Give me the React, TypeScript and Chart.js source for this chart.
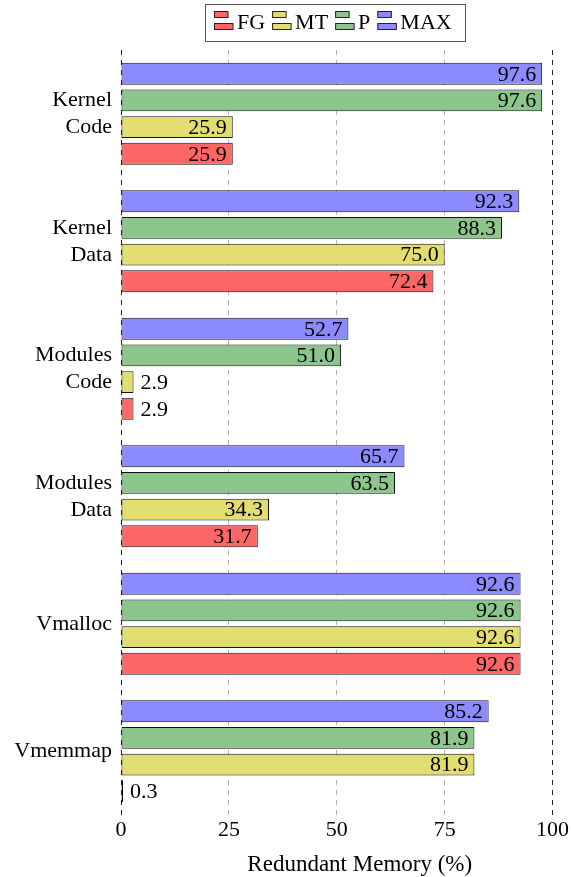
import React, { useEffect, useRef } from "react";
import { Chart, registerables } from "chart.js";

Chart.register(...registerables);

const categories: (string | string[])[] = [
  ["Kernel", "Code"],
  ["Kernel", "Data"],
  ["Modules", "Code"],
  ["Modules", "Data"],
  "Vmalloc",
  "Vmemmap",
];

const seriesNames = ["MAX", "P", "MT", "FG"];
const maxValues = [97.6, 92.3, 52.7, 65.7, 92.6, 85.2];
const pValues = [97.6, 88.3, 51.0, 63.5, 92.6, 81.9];
const mtValues = [25.9, 75.0, 2.9, 34.3, 92.6, 81.9];
const fgValues = [25.9, 72.4, 2.9, 31.7, 92.6, 0.3];
const seriesColors = ["#8b8bff", "#8cc68c", "#e2dd70", "#ff6666"];
const xTicks = [0, 25, 50, 75, 100];
const xTitle = "Redundant Memory (%)";

const FONT = "'Liberation Serif', 'Times New Roman', serif";
const FONT_SIZE = 22;

const valueLabels = {
  id: "valueLabels",
  afterDatasetsDraw(chart: any) {
    const ctx = chart.ctx;
    ctx.save();
    ctx.font = `${FONT_SIZE}px ${FONT}`;
    ctx.fillStyle = "#000";
    ctx.textBaseline = "middle";
    chart.data.datasets.forEach((ds: any, di: number) => {
      const meta = chart.getDatasetMeta(di);
      meta.data.forEach((el: any, i: number) => {
        const v = ds.data[i] as number;
        const txt = v.toFixed(1);
        if (v < 10) {
          ctx.textAlign = "left";
          ctx.fillText(txt, el.x + 7, el.y + 1);
        } else {
          ctx.textAlign = "right";
          ctx.fillText(txt, el.x - 6, el.y + 1);
        }
      });
    });
    ctx.restore();
  },
};

const boxLegend = {
  id: "boxLegend",
  afterDraw(chart: any) {
    const ctx = chart.ctx;
    ctx.save();
    ctx.font = `${FONT_SIZE}px ${FONT}`;
    const items = chart.data.datasets
      .map((ds: any) => ({ label: ds.label as string, color: ds.backgroundColor as string }))
      .reverse();
    const iconW = 19;
    const gapIconText = 4;
    const gapItems = 7;
    let total = 0;
    items.forEach((it: any, i: number) => {
      total += iconW + gapIconText + ctx.measureText(it.label).width;
      if (i < items.length - 1) total += gapItems;
    });
    const boxL = 205;
    const boxR = 465;
    const boxT = 4.5;
    const boxB = 41.5;
    ctx.strokeStyle = "#555";
    ctx.lineWidth = 1;
    ctx.strokeRect(boxL + 0.5, boxT, boxR - boxL, boxB - boxT);
    let x = Math.round((boxL + boxR) / 2 - total / 2) - 2;
    const cy = 23;
    items.forEach((it: any) => {
      ctx.fillStyle = it.color;
      ctx.strokeStyle = "#222";
      ctx.lineWidth = 1;
      ctx.fillRect(x, 11, 14, 6.5);
      ctx.strokeRect(x + 0.5, 11.5, 13.5, 6);
      ctx.fillRect(x, 23, 19, 6.5);
      ctx.strokeRect(x + 0.5, 23.5, 18.5, 6);
      x += iconW + gapIconText;
      ctx.fillStyle = "#000";
      ctx.textAlign = "left";
      ctx.textBaseline = "middle";
      ctx.fillText(it.label, x, cy);
      x += ctx.measureText(it.label).width + gapItems;
    });
    ctx.restore();
  },
};

export default function App() {
  const ref = useRef<HTMLCanvasElement | null>(null);

  useEffect(() => {
    if (!ref.current) return;
    const values = [maxValues, pValues, mtValues, fgValues];
    const chart = new Chart(ref.current, {
      type: "bar",
      data: {
        labels: categories,
        datasets: seriesNames.map((name, i) => ({
          label: name,
          data: values[i],
          backgroundColor: seriesColors[i],
          borderColor: "#111",
          borderWidth: 1,
          borderSkipped: false,
          minBarLength: 2,
          categoryPercentage: 0.836,
          barPercentage: 0.82,
        })),
      },
      options: {
        indexAxis: "y",
        animation: false,
        responsive: true,
        maintainAspectRatio: false,
        layout: { padding: { top: 50, left: 0, right: 18.5, bottom: 0 } },
        plugins: {
          legend: { display: false },
          tooltip: { enabled: false },
        },
        scales: {
          x: {
            min: 0,
            max: 100,
            afterBuildTicks: (scale: any) => {
              scale.ticks = xTicks.map((v) => ({ value: v }));
            },
            afterFit: (scale: any) => {
              scale.height = 62;
            },
            ticks: {
              color: "#000",
              font: { family: FONT, size: FONT_SIZE },
              padding: 2,
              maxRotation: 0,
            },
            grid: {
              drawTicks: false,
              color: (c: any) =>
                c.tick && (c.tick.value === 0 || c.tick.value === 100) ? "#222" : "#b4b4b4",
              lineWidth: 1,
            },
            border: { display: false, dash: [5, 5] },
            title: {
              display: true,
              text: "\u00a0\u00a0\u00a0\u00a0\u00a0\u00a0\u00a0\u00a0" + xTitle,
              color: "#000",
              font: { family: FONT, size: 23 },
              padding: { top: 0, bottom: -2 },
            },
          },
          y: {
            afterFit: (scale: any) => {
              scale.width = 121;
            },
            ticks: {
              color: "#000",
              font: { family: FONT, size: FONT_SIZE, lineHeight: 1.23 },
              padding: 9,
            },
            grid: { display: false, drawTicks: false },
            border: { display: false },
          },
        },
      },
      plugins: [valueLabels, boxLegend],
    });
    return () => chart.destroy();
  }, []);

  return (
    <div style={{ position: "fixed", left: 0, top: 0, width: 571, height: 877, background: "#fff" }}>
      <canvas ref={ref} />
    </div>
  );
}
